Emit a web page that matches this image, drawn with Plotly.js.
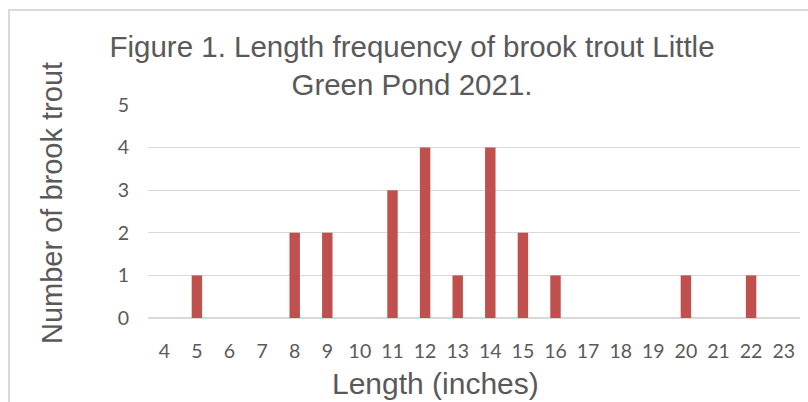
<!DOCTYPE html>
<html>
<head>
<meta charset="utf-8">
<script src="https://cdn.plot.ly/plotly-3.0.1.min.js"></script>
<style>html,body{margin:0;padding:0;background:#fff;}#chart{width:808px;height:402px;}</style>
</head>
<body>
<div id="chart"></div>
<script>
const lengths = ['4','5','6','7','8','9','10','11','12','13','14','15','16','17','18','19','20','21','22','23'];
const counts  = [0, 1, 0, 0, 2, 2, 0, 3, 4, 1, 4, 2, 1, 0, 0, 0, 1, 0, 1, 0];
const yTicks = [0, 1, 2, 3, 4, 5];
const titleText = 'Figure 1. Length frequency of brook trout Little<br>Green Pond 2021.';
const xTitle = 'Length (inches)';
const yTitle = 'Number of brook trout';

const textColor = '#595959';
const L = 148, R = 800, T = 105, B = 318, W = 808, H = 402;
const px = x => (x - L) / (R - L);
const py = y => (B - y) / (B - T);

const trace = {
  type: 'bar',
  x: lengths,
  y: counts,
  width: 0.32,
  marker: {color: '#C0504D', line: {width: 0}},
  hoverinfo: 'x+y'
};

const layout = {
  width: W, height: H,
  margin: {l: L, r: W - R, t: T, b: H - B, pad: 0},
  paper_bgcolor: '#ffffff',
  plot_bgcolor: '#ffffff',
  showlegend: false,
  font: {family: 'Lato, "Open Sans", sans-serif', color: textColor},
  title: {
    text: titleText,
    x: 412 / W, xanchor: 'center',
    y: 1 - 57 / H, yanchor: 'top', yref: 'container',
    font: {family: '"Liberation Sans", Arial, sans-serif', size: 29.5, color: textColor}
  },
  xaxis: {
    type: 'category',
    categoryorder: 'array', categoryarray: lengths,
    range: [-0.5, lengths.length - 0.5],
    showgrid: false, showline: false, zeroline: false,
    ticks: '', ticklabelstandoff: 19,
    tickfont: {family: 'Lato, sans-serif', size: 19.5, color: textColor},
    fixedrange: true
  },
  yaxis: {
    range: [0, 5],
    tickvals: yTicks,
    showgrid: true, gridcolor: '#d9d9d9', gridwidth: 1.3,
    zeroline: true, zerolinecolor: '#d9d9d9', zerolinewidth: 1.3,
    showline: false, ticks: '', ticklabelstandoff: 18,
    tickfont: {family: 'Lato, sans-serif', size: 19.5, color: textColor},
    fixedrange: true
  },
  annotations: [
    {
      text: yTitle, textangle: -90,
      xref: 'paper', yref: 'paper', x: px(52), y: py(203),
      xanchor: 'center', yanchor: 'middle', showarrow: false,
      font: {family: '"Liberation Sans", Arial, sans-serif', size: 29, color: textColor}
    },
    {
      text: xTitle,
      xref: 'paper', yref: 'paper', x: px(435), y: py(383),
      xanchor: 'center', yanchor: 'middle', showarrow: false,
      font: {family: '"Liberation Sans", Arial, sans-serif', size: 30, color: textColor}
    }
  ],
  shapes: [
    {
      type: 'rect', xref: 'paper', yref: 'paper',
      x0: px(9), x1: px(809.5), y0: py(403.5), y1: py(10),
      line: {color: '#d9d9d9', width: 2}, layer: 'above', fillcolor: 'rgba(0,0,0,0)'
    },
    {
      type: 'rect', xref: 'paper', yref: 'paper',
      x0: px(9), x1: px(808), y0: py(11), y1: py(9),
      line: {width: 0}, layer: 'above', fillcolor: '#d9d9d9'
    }
  ]
};

Plotly.newPlot('chart', [trace], layout, {displayModeBar: false, staticPlot: true});
</script>
</body>
</html>
